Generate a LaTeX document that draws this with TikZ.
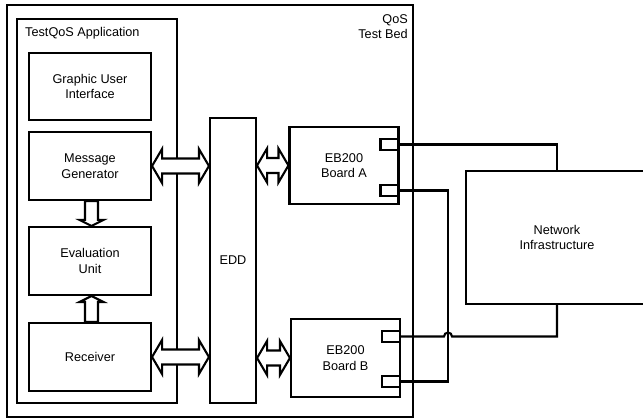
\documentclass[tikz,border=0pt]{standalone}
\usepackage{fontspec}
\setmainfont{Liberation Sans}
\usetikzlibrary{calc}
\newcommand\hdbl[2]{%
  \path[hollow] let \p1=(#1),\p2=(#2) in
    (\x1,\y1) -- (\x1+10pt,\y1+17pt) -- (\x1+10pt,\y1+7.5pt) -- (\x2-10pt,\y1+7.5pt)
    -- (\x2-10pt,\y1+17pt) -- (\x2,\y1) -- (\x2-10pt,\y1-17pt) -- (\x2-10pt,\y1-7.5pt)
    -- (\x1+10pt,\y1-7.5pt) -- (\x1+10pt,\y1-17pt) -- cycle;}
\newcommand\hsgl[2]{%
  \path[hollow] let \p1=(#1),\p2=(#2),\n1={sign(\y2-\y1)} in
    (\x1-6.5pt,\y1) -- (\x1-6.5pt,\y2-\n1*6pt) -- (\x1-12pt,\y2-\n1*6pt) -- (\x1,\y2)
    -- (\x1+12pt,\y2-\n1*6pt) -- (\x1+6.5pt,\y2-\n1*6pt) -- (\x1+6.5pt,\y1) -- cycle;}
\begin{document}
\begin{tikzpicture}[x=1pt,y=-1pt,
  lw/.style={line width=2.1pt},
  txt/.style={font=\fontsize{12.7}{15.5}\selectfont},
  box/.style={draw, lw, rectangle, inner sep=0pt, align=center, txt},
  port/.style={draw, lw, rectangle, inner sep=0pt, minimum width=18pt, minimum height=11pt},
  wire/.style={lw},
  hollow/.style={draw, lw, fill=white, line join=miter}]
\clip (0,0) rectangle (643,419);
\useasboundingbox (0,0) rectangle (643,419);
% containers
\node[box, minimum width=406pt, minimum height=412pt] (bed) at (210,211) {};
\node[box, minimum width=160pt, minimum height=384pt] (app) at (97,211) {};
\node[txt, anchor=base west, inner sep=0pt] (applabel) at (25,37) {TestQoS Application};
\node[txt, anchor=north east, align=right, inner sep=0pt] (bedlabel) at (408,14) {QoS\\Test Bed};
% application blocks
\node[box, minimum width=122pt, minimum height=67pt] (GUI) at (90,86.5) {Graphic User\\Interface};
\node[box, minimum width=122pt, minimum height=68pt] (MG) at (90,166) {Message\\Generator};
\node[box, minimum width=122pt, minimum height=68pt] (EU) at (90,261) {Evaluation\\Unit};
\node[box, minimum width=122pt, minimum height=68pt] (RX) at (90,357) {Receiver};
% EDD
\node[box, minimum width=46pt, minimum height=285pt] (EDD) at (233,260.5) {EDD};
% boards
\node[box, minimum width=109pt, minimum height=77pt] (BA) at (344,165.5) {EB200\\Board A};
\node[box, minimum width=109pt, minimum height=78pt] (BB) at (345.5,358) {EB200\\Board B};
\node[port, anchor=east] (PA1) at (BA.east |- 0,144.5) {};
\node[port, anchor=east] (PA2) at (BA.east |- 0,190.5) {};
\node[port, anchor=east] (PB1) at (BB.east |- 0,336.5) {};
\node[port, anchor=east] (PB2) at (BB.east |- 0,381.5) {};
% network
\node[box, minimum width=182pt, minimum height=133pt] (NET) at (557,237.5) {Network\\Infrastructure};
% wiring
\coordinate (jx) at (448,0);
\draw[wire] (PA1.east) -| (NET.north);
\draw[wire] (PA2.east) -- (PA2.east -| jx) |- (PB2.east);
\draw[wire] (PB1.east) -- ($(PB1.east -| jx)+(-4,0)$) arc[start angle=180, end angle=0, radius=4pt] -| (NET.south);
% hollow arrows
\hdbl{MG.east}{EDD.west |- MG.east}
\hdbl{EDD.east |- BA.west}{BA.west}
\hdbl{RX.east}{EDD.west |- RX.east}
\hdbl{EDD.east |- BB.west}{BB.west}
\hsgl{$(MG.south)+(1.5,0)$}{$(EU.north)+(1.5,0)$}
\hsgl{$(RX.north)+(1.5,0)$}{$(EU.south)+(1.5,0)$}
\end{tikzpicture}
\end{document}
